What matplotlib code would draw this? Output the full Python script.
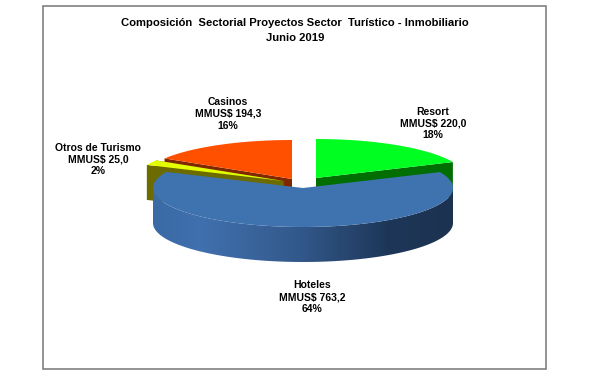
#!/usr/bin/env python3
import numpy as np
import matplotlib
matplotlib.use("Agg")
import matplotlib.pyplot as plt
from matplotlib.colors import LinearSegmentedColormap
from matplotlib.patches import Polygon, Rectangle

plt.rcParams["font.family"] = ["Liberation Sans", "DejaVu Sans"]

categories = ["Resort", "Hoteles", "Otros de Turismo", "Casinos"]
values = [220.0, 763.2, 25.0, 194.3]
value_labels = ["220,0", "763,2", "25,0", "194,3"]
pct_labels = ["18%", "64%", "2%", "16%"]

title_lines = ["Composición  Sectorial Proyectos Sector  Turístico - Inmobiliario", "Junio 2019"]

CX, CY = 303, 188
RX, RY = 150, 39
DEPTH = 35
START = 90

# per slice styling, same order as categories
offsets = [(13, -10), (0, 0), (-19.5, -7), (-11, -9)]
top_colors = ["#00FF21", "#3F73B0", "#E6FF00", "#FF5000"]
wall_colors = ["#006E00", "#33598C", "#6B6B00", "#7F2800"]
label_pos = [(433, 123.5), (312, 297), (98, 159.5), (228, 114)]


def rim(t, cx, cy):
    t = np.radians(t)
    return np.column_stack([cx + RX * np.cos(t), cy - RY * np.sin(t)])


def slice_angles():
    sweep = np.array(values) / sum(values) * 360
    ends = START - np.cumsum(sweep)
    starts = ends + sweep
    return starts, ends


def draw_slice(ax, i, t0, t1, z):
    cx = CX + offsets[i][0]
    cy = CY + offsets[i][1]
    apex = np.array([cx, cy])
    ts = np.linspace(t0, t1, 120)

    # radial wall on the trailing edge, only the ones facing us
    for t in (t0, t1):
        p = rim(t, cx, cy)[0]
        wall = [apex, p, p + [0, DEPTH], apex + [0, DEPTH]]
        if i != 1:
            ax.add_patch(Polygon(wall, fc=wall_colors[i], ec="none", zorder=z))

    if i == 1:
        # outer side of the big slice has a shaded look
        front = np.linspace(-180, 0, 160)
        upper = rim(front, cx, cy)
        lower = upper + [0, DEPTH]
        outline = np.vstack([upper, lower[::-1]])
        patch = Polygon(outline, fc="none", ec="none", zorder=z)
        ax.add_patch(patch)
        cmap = LinearSegmentedColormap.from_list(
            "side",
            [(0, "#3A6BA6"), (0.16, "#4070AD"), (0.48, "#33598C"), (0.78, "#1E3759"), (1, "#1C3250")],
        )
        im = ax.imshow(
            np.linspace(0, 1, 300).reshape(1, -1),
            cmap=cmap,
            extent=(cx - RX, cx + RX, cy + RY + DEPTH, cy),
            aspect="auto",
            zorder=z,
        )
        im.set_clip_path(patch)

    top = np.vstack([apex, rim(ts, cx, cy)])
    ax.add_patch(Polygon(top, fc=top_colors[i], ec="none", zorder=z + 0.5))


def main():
    fig = plt.figure(figsize=(6.03, 3.78), dpi=100)
    ax = fig.add_axes([0, 0, 1, 1])
    ax.set_xlim(0, 603)
    ax.set_ylim(378, 0)
    ax.axis("off")

    ax.add_patch(Rectangle((43, 5.5), 503, 363, fc="white", ec="#808080", lw=1.2, zorder=0))

    starts, ends = slice_angles()
    # back to front: casinos sits under the yellow one, hoteles over everything
    for z, i in enumerate([0, 3, 2, 1], start=1):
        draw_slice(ax, i, starts[i], ends[i], z)

    ax.set_xlim(0, 603)
    ax.set_ylim(378, 0)

    ax.text(295, 22.5, title_lines[0], ha="center", va="center", fontsize=8.1, fontweight="bold", zorder=10)
    ax.text(295, 38, title_lines[1], ha="center", va="center", fontsize=8.1, fontweight="bold", zorder=10)

    for i, name in enumerate(categories):
        x, y = label_pos[i]
        text = f"{name}\nMMUS$ {value_labels[i]}\n{pct_labels[i]}"
        ax.text(x, y, text, ha="center", va="center", fontsize=7.5, fontweight="bold",
                linespacing=1.19, zorder=10)

    fig.savefig("out.png", dpi=100)


if __name__ == "__main__":
    main()
